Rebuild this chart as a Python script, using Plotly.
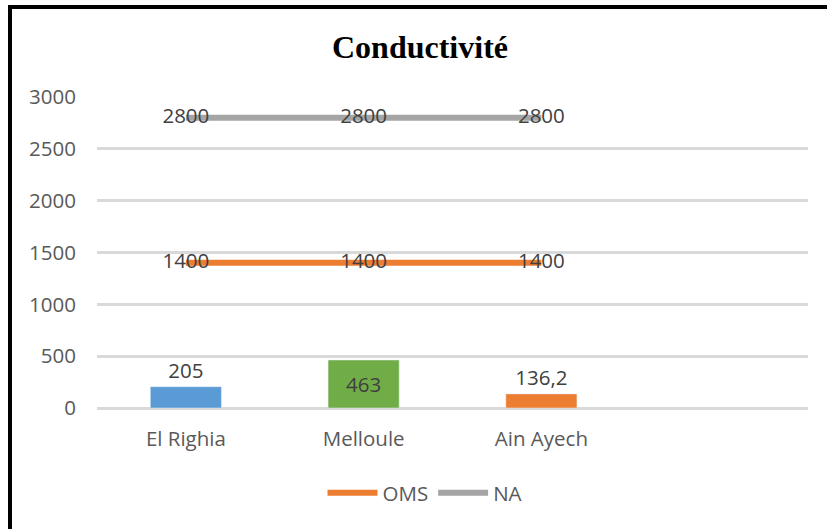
import plotly.graph_objects as go

categories = ["El Righia", "Melloule", "Ain Ayech"]
bar_values = [205, 463, 136.2]
bar_labels = ["205", "463", "136,2"]
bar_colors = ["#5B9BD5", "#70AD47", "#ED7D31"]
oms_values = [1400, 1400, 1400]
na_values = [2800, 2800, 2800]
y_ticks = [0, 500, 1000, 1500, 2000, 2500, 3000]

W, H = 827, 529
L, T = 97, 97
R = W - 808
B = H - 408
pw, ph = W - L - R, H - T - B

def px_x(x):
    return (x - L) / pw

def px_y(y):
    return (H - B - y) / ph

FONT = "Open Sans"
FS = 20.5
fig = go.Figure()
fig.add_trace(go.Bar(
    x=categories, y=bar_values, marker_color=bar_colors, width=0.4,
    text=bar_labels, textposition=["outside", "inside", "outside"],
    insidetextanchor="middle", cliponaxis=False,
    textfont=dict(size=FS, color="#404040", family=FONT),
    outsidetextfont=dict(size=FS, color="#404040", family=FONT),
    insidetextfont=dict(size=FS, color="#404040", family=FONT),
    showlegend=False,
))
fig.add_trace(go.Scatter(
    x=categories, y=oms_values, name="OMS", mode="lines+text",
    line=dict(color="#ED7D31", width=6),
    text=[str(v) for v in oms_values], textposition="middle center",
    textfont=dict(size=FS, color="#404040", family=FONT),
))
fig.add_trace(go.Scatter(
    x=categories, y=na_values, name="NA", mode="lines+text",
    line=dict(color="#A5A5A5", width=6),
    text=[str(v) for v in na_values], textposition="middle center",
    textfont=dict(size=FS, color="#404040", family=FONT),
))

fig.update_layout(
    width=W, height=H,
    margin=dict(l=L, r=R, t=T, b=B),
    paper_bgcolor="white", plot_bgcolor="white",
    title=dict(text="<b>Conductivité</b>", x=420 / W, xref="container", xanchor="center",
               y=1 - 47 / H, yref="container", yanchor="middle",
               font=dict(family="Liberation Serif", size=32, color="black")),
    font=dict(family=FONT, color="#595959", size=FS),
    legend=dict(orientation="h", x=px_x(425), xanchor="center", y=px_y(493), yanchor="middle",
                font=dict(size=FS, color="#595959"), itemwidth=50),
    shapes=[
        dict(type="line", xref="paper", yref="paper", x0=px_x(10), x1=px_x(10),
             y0=px_y(5), y1=px_y(540), line=dict(color="black", width=4)),
        dict(type="line", xref="paper", yref="paper", x0=px_x(8), x1=px_x(840),
             y0=px_y(7), y1=px_y(7), line=dict(color="black", width=4)),
    ],
)
fig.update_xaxes(type="category", range=[-0.5, 3.5], showgrid=False, showline=False,
                 zeroline=False, ticks="", ticklabelstandoff=16,
                 tickfont=dict(size=FS, color="#595959"))
fig.update_yaxes(range=[0, 3000], tickvals=y_ticks, showgrid=True, gridcolor="#D9D9D9",
                 gridwidth=3, zeroline=True, zerolinecolor="#D9D9D9", zerolinewidth=3,
                 showline=False, ticks="", ticklabelstandoff=20,
                 tickfont=dict(size=FS, color="#595959"))

fig.write_html("out.html", config={"displayModeBar": False},
               post_script="document.body.style.margin='0px';")
